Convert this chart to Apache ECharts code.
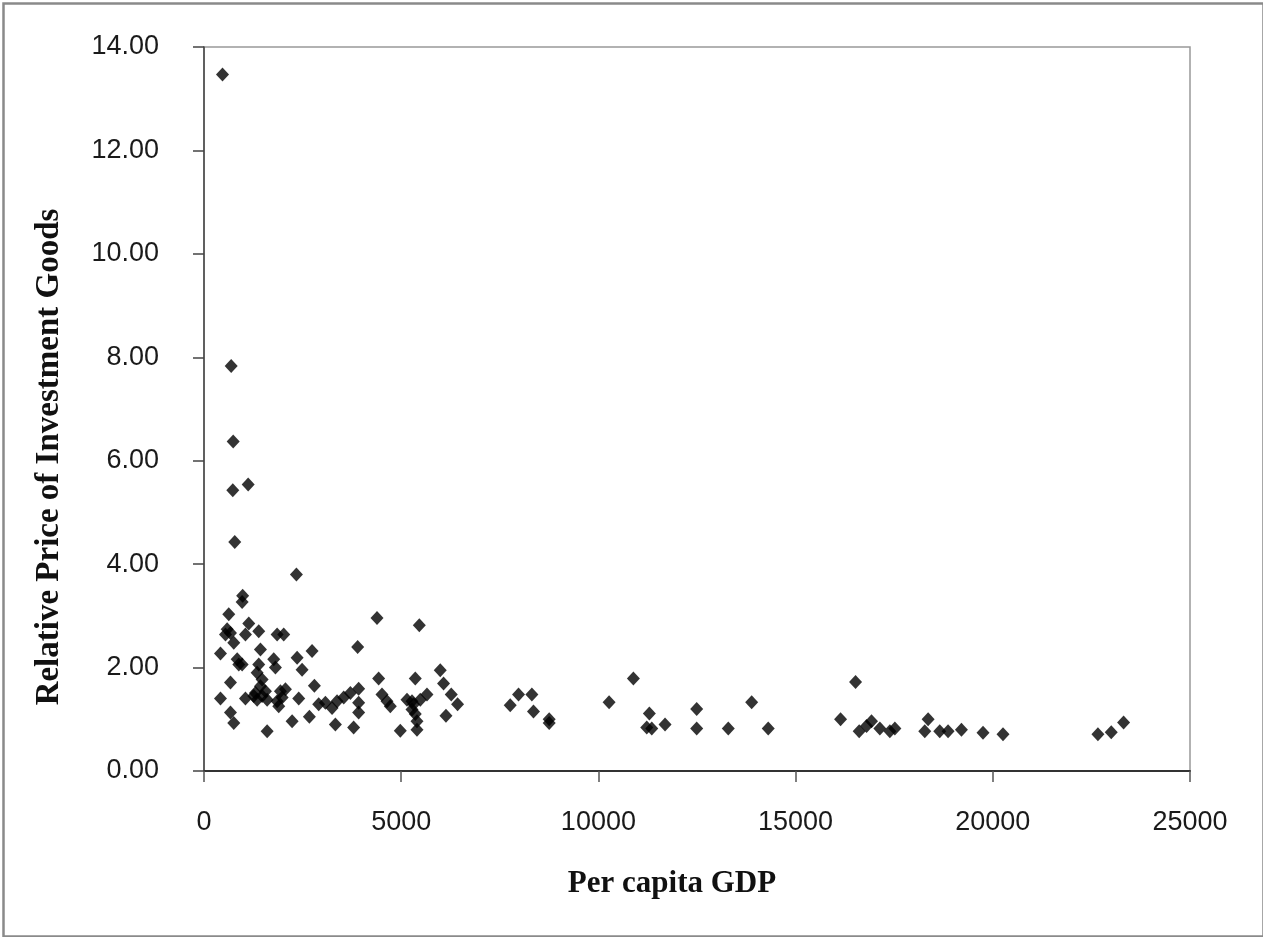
<!DOCTYPE html>
<html>
<head>
<meta charset="utf-8">
<title>Relative Price of Investment Goods vs Per capita GDP</title>
<script src="https://cdn.jsdelivr.net/npm/echarts@6/dist/echarts.min.js"></script>
<style>
  html, body { margin: 0; padding: 0; background: #fff; }
  #chart { width: 1263px; height: 937px; }
</style>
</head>
<body>
<div id="chart"></div>
<script>
// Per capita GDP (x) and relative price of investment goods (y), one entry per country
const gdp = [
  469, 689, 740, 730, 1120, 780, 2343, 980, 967, 628,
  587, 671, 545, 1135, 1051, 1388, 1854, 2021, 755, 418,
  1431, 841, 882, 967, 1768, 1811, 2361, 2487, 2740, 1388,
  1347, 1474, 1431, 1558, 1304, 1474, 1347, 1601, 1262, 671,
  418, 1051, 1938, 2065, 1981, 1854, 1895, 2402, 671, 755,
  1601, 2234, 2672, 4387, 3896, 2799, 4428, 2908, 3078, 3247,
  3374, 3543, 3711, 3921, 3921, 3921, 3331, 3794, 4513, 4640,
  4724, 4977, 5147, 5274, 5357, 5400, 5400, 5459, 5357, 5990,
  6074, 6269, 6429, 6135, 5315, 5484, 5653, 5274, 7764, 7975,
  8313, 8354, 8752, 8752, 10271, 10887, 11292, 11226, 11353, 11690,
  12492, 12492, 13293, 13886, 14306, 16140, 16520, 16612, 16925, 16799,
  17136, 17390, 17517, 18360, 18275, 18655, 18866, 19205, 19752, 20259,
  22665, 23003, 23316
];
const relPrice = [
  13.47, 7.83, 6.37, 5.43, 5.54, 4.43, 3.80, 3.39, 3.27, 3.03,
  2.74, 2.67, 2.64, 2.85, 2.64, 2.70, 2.64, 2.64, 2.48, 2.27,
  2.35, 2.16, 2.06, 2.06, 2.16, 2.00, 2.19, 1.96, 2.32, 2.06,
  1.90, 1.77, 1.64, 1.54, 1.51, 1.45, 1.38, 1.38, 1.45, 1.71,
  1.40, 1.40, 1.54, 1.58, 1.42, 1.35, 1.25, 1.40, 1.13, 0.93,
  0.77, 0.96, 1.05, 2.96, 2.40, 1.65, 1.79, 1.29, 1.32, 1.22,
  1.35, 1.42, 1.51, 1.59, 1.32, 1.13, 0.90, 0.84, 1.48, 1.35,
  1.25, 0.78, 1.38, 1.35, 1.10, 0.96, 0.80, 2.82, 1.79, 1.95,
  1.69, 1.48, 1.29, 1.07, 1.29, 1.38, 1.48, 1.19, 1.27, 1.48,
  1.48, 1.15, 1.00, 0.93, 1.33, 1.79, 1.11, 0.84, 0.82, 0.90,
  1.20, 0.82, 0.82, 1.33, 0.82, 1.00, 1.72, 0.77, 0.96, 0.87,
  0.82, 0.77, 0.82, 1.00, 0.77, 0.77, 0.77, 0.80, 0.74, 0.71,
  0.71, 0.75, 0.94
];

// Axis titles
const xTitle = 'Per capita GDP';
const yTitle = 'Relative Price of Investment Goods';

const points = gdp.map((g, i) => [g, relPrice[i]]);

const chart = echarts.init(document.getElementById('chart'), null, { renderer: 'canvas' });

const labelFont = {
  color: '#1a1a1a',
  fontFamily: '"Liberation Sans", Arial, sans-serif',
  fontSize: 27
};
const titleFont = {
  fill: '#111',
  fontFamily: '"Liberation Serif", "Times New Roman", serif',
  fontWeight: 'bold'
};

chart.setOption({
  animation: false,
  backgroundColor: '#fff',
  grid: {
    left: 204,
    right: 73,
    top: 47,
    bottom: 166,
    show: true,
    borderColor: '#999',
    borderWidth: 1.5,
    backgroundColor: 'transparent'
  },
  xAxis: {
    type: 'value',
    min: 0,
    max: 25000,
    interval: 5000,
    axisLine: { show: true, lineStyle: { color: '#333', width: 2 } },
    axisTick: { show: true, inside: false, length: 11, lineStyle: { color: '#555', width: 1.5 } },
    axisLabel: Object.assign({ margin: 38, formatter: v => String(v) }, labelFont),
    splitLine: { show: false }
  },
  yAxis: {
    type: 'value',
    min: 0,
    max: 14,
    interval: 2,
    axisLine: { show: true, lineStyle: { color: '#444', width: 1.5 } },
    axisTick: { show: true, inside: false, length: 11, lineStyle: { color: '#444', width: 1.5 } },
    axisLabel: Object.assign({
      margin: 45,
      formatter: v => v.toFixed(2)
    }, labelFont),
    splitLine: { show: false }
  },
  graphic: [
    {
      type: 'rect',
      left: 1, top: 1, silent: true,
      shape: { width: 1260, height: 933 },
      style: { fill: 'none', stroke: '#8a8a8a', lineWidth: 2.5 }
    },
    {
      type: 'text',
      x: 672, y: 884,
      style: Object.assign({ text: xTitle, textAlign: 'center', textVerticalAlign: 'middle', fontSize: 31 }, titleFont)
    },
    {
      type: 'text',
      x: 49, y: 457,
      rotation: Math.PI / 2,
      style: Object.assign({ text: yTitle, textAlign: 'center', textVerticalAlign: 'middle', fontSize: 33 }, titleFont)
    }
  ],
  series: [{
    type: 'scatter',
    data: points,
    symbol: 'diamond',
    symbolSize: [13, 14],
    itemStyle: { color: '#000' }
  }]
});
</script>
</body>
</html>
